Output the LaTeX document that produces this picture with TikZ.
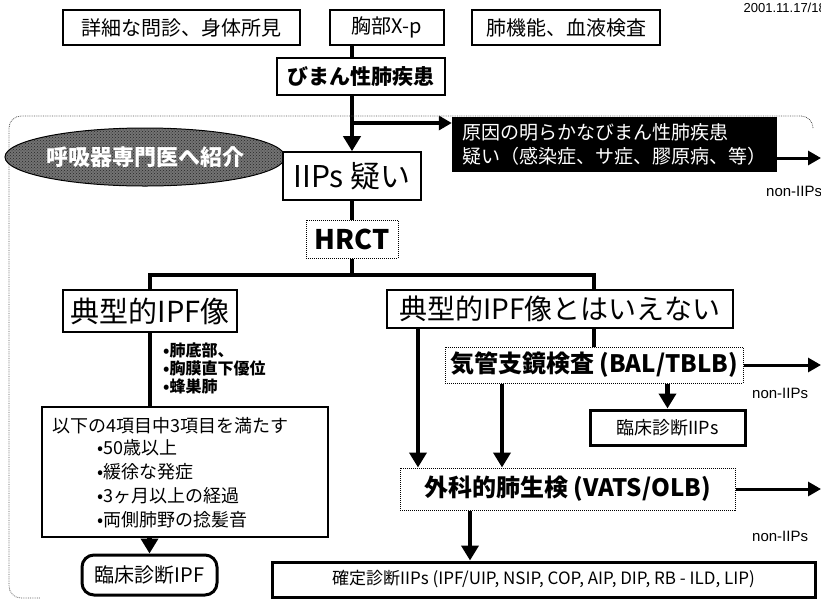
\documentclass[tikz,border=0pt]{standalone}
\usepackage{fontspec}
\setmainfont{Noto Sans CJK JP}
\newfontfamily\arialf{Liberation Sans}
\usetikzlibrary{arrows.meta,shapes.geometric,calc,patterns}
\pgfdeclarelayer{bg}
\pgfsetlayers{bg,main}
\newcommand{\fs}[1]{\fontsize{#1}{#1}\selectfont}
\begin{document}
\begin{tikzpicture}[x=1pt,y=-1pt,
  bx/.style={draw, line width=1.3pt, fill=white, inner sep=0pt, align=center},
  dbx/.style={draw, densely dotted, line width=1pt, fill=white, inner sep=0pt, align=center},
  tbx/.style={draw, line width=3pt, fill=white, inner sep=0pt, align=center},
  ln/.style={line width=4.5pt},
  arr/.style={line width=4.5pt, -{Triangle[length=15pt,width=17pt]}},
  rarr/.style={line width=3pt, -{Triangle[length=13pt,width=14pt]}},
  lbl/.style={font=\arialf\fs{15}, anchor=west, inner sep=0pt},
  txt/.style={anchor=west, inner sep=0pt}
]
\useasboundingbox (0,0) rectangle (821,598);

% outer dotted frame
\draw[densely dotted, line width=0.8pt, gray!70!black, rounded corners=12pt]
  (813,128) -- (813,116) -- (9,116) -- (9,598) -- (40,598);

\node[font=\arialf\fs{13}, anchor=east, inner sep=0pt] (date) at (826,8) {2001.11.17/18};

\node[bx, minimum width=237pt, minimum height=35pt, font=\fs{20}] (b1) at (181.5,27.5) {詳細な問診、身体所見};
\node[bx, minimum width=114pt, minimum height=35pt, font=\fs{20}] (b2) at (387,27.5) {胸部X-p};
\node[bx, minimum width=188pt, minimum height=35pt, font=\fs{20}] (b3) at (566,27.5) {肺機能、血液検査};
\node[bx, minimum width=168pt, minimum height=37pt, font=\bfseries\fs{21}] (dm) at (361,76.5) {びまん性肺疾患};

\node[ellipse, draw=black, line width=1pt, fill=black!55,
      postaction={pattern=crosshatch dots, pattern color=black!85},
      minimum width=266pt, minimum height=58pt,
      inner sep=0pt, text=white, font=\bfseries\fs{22}] (refer) at (145,157) {呼吸器専門医へ紹介};

\node[fill=black, minimum width=325pt, minimum height=55pt, inner sep=0pt, text=white,
      align=left, font=\fs{19}] (cause) at (614.5,144.5)
      {原因の明らかなびまん性肺疾患\\[5pt]疑い（感染症、サ症、膠原病、等）};

\node[bx, line width=1.6pt, minimum width=138pt, minimum height=48pt, font=\fs{30}] (iip) at (352,176) {IIPs 疑い};
\node[dbx, minimum width=92pt, minimum height=38pt, font=\bfseries\fs{27}] (hrct) at (352,239) {HRCT};

\node[bx, minimum width=174pt, minimum height=42pt, font=\fs{29}] (typ) at (150,311) {典型的IPF像};
\node[bx, minimum width=346pt, minimum height=38pt, font=\fs{28}] (ntyp) at (560,309) {典型的IPF像とはいえない};

\node[txt, font=\bfseries\fs{16}] (t1) at (163,350) {•肺底部、};
\node[txt, font=\bfseries\fs{16}] (t2) at (163,368) {•胸膜直下優位};
\node[txt, font=\bfseries\fs{16}] (t3) at (163,386) {•蜂巣肺};

\node[bx, minimum width=286pt, minimum height=130pt] (crit) at (185,472) {};
\node[txt, font=\fs{18}] (c0) at (52,426) {以下の4項目中3項目を満たす};
\node[txt, font=\fs{18}] (c1) at (97,448) {•50歳以上};
\node[txt, font=\fs{18}] (c2) at (97,472) {•緩徐な発症};
\node[txt, font=\fs{18}] (c3) at (97,496) {•3ヶ月以上の経過};
\node[txt, font=\fs{18}] (c4) at (97,520) {•両側肺野の捻髪音};

\node[draw, line width=3pt, fill=white, rounded corners=12pt, minimum width=135pt, minimum height=40pt,
      inner sep=0pt, font=\fs{20}] (ipf) at (149.5,575) {臨床診断IPF};

\node[dbx, minimum width=298pt, minimum height=36pt, font=\bfseries\fs{24}] (bron) at (594,365) {気管支鏡検査 (BAL/TBLB)};
\node[tbx, minimum width=155pt, minimum height=35pt, font=\fs{18}] (ciip) at (667.5,427.5) {臨床診断IIPs};
\node[dbx, minimum width=335pt, minimum height=42pt, font=\bfseries\fs{24}] (surg) at (567.5,489) {外科的肺生検 (VATS/OLB)};
\node[tbx, minimum width=543pt, minimum height=35pt, font=\fs{17}] (conf) at (543.5,579.5)
  {確定診断IIPs (IPF/UIP, NSIP, COP, AIP, DIP, RB - ILD, LIP)};

\node[lbl] (n1) at (766,191) {non-IIPs};
\node[lbl] (n2) at (752,393) {non-IIPs};
\node[lbl] (n3) at (752,536) {non-IIPs};

\coordinate (j1) at (352,123);
\coordinate (bar) at (352,275);
\coordinate (e1) at (821,158);
\coordinate (xa) at (418,0);
\coordinate (xb) at (502,0);
\coordinate (xc) at (470,0);

\begin{pgfonlayer}{bg}
\draw[arr] (b2.south -| iip.north) -- (iip.north);
\draw[rarr, line width=4pt] (j1) -- (j1 -| cause.west);
\draw[rarr] (e1 -| cause.east) -- (e1);
\draw[ln] (iip.south) -- (hrct.north);
\draw[ln] (hrct.south) -- (bar);
\draw[ln] (typ.north) -- (typ.north |- bar) -- (bar -| bron.north) -- (ntyp.north -| bron.north);
\draw[ln] (typ.south) -- (crit.north -| typ.south);
\draw[ln] (ntyp.south -| bron.north) -- (bron.north);
\draw[arr] (ntyp.south -| xa) -- (surg.north -| xa);
\draw[arr] (bron.south -| xb) -- (surg.north -| xb);
\draw[arr] (bron.south -| ciip.north) -- (ciip.north);
\draw[rarr] (bron.east) -- (bron.east -| e1);
\draw[rarr] (surg.east) -- (surg.east -| e1);
\draw[arr] (surg.south -| xc) -- (conf.north -| xc);
\draw[arr] (crit.south -| ipf.north) -- (ipf.north);
\end{pgfonlayer}
\end{tikzpicture}
\end{document}
